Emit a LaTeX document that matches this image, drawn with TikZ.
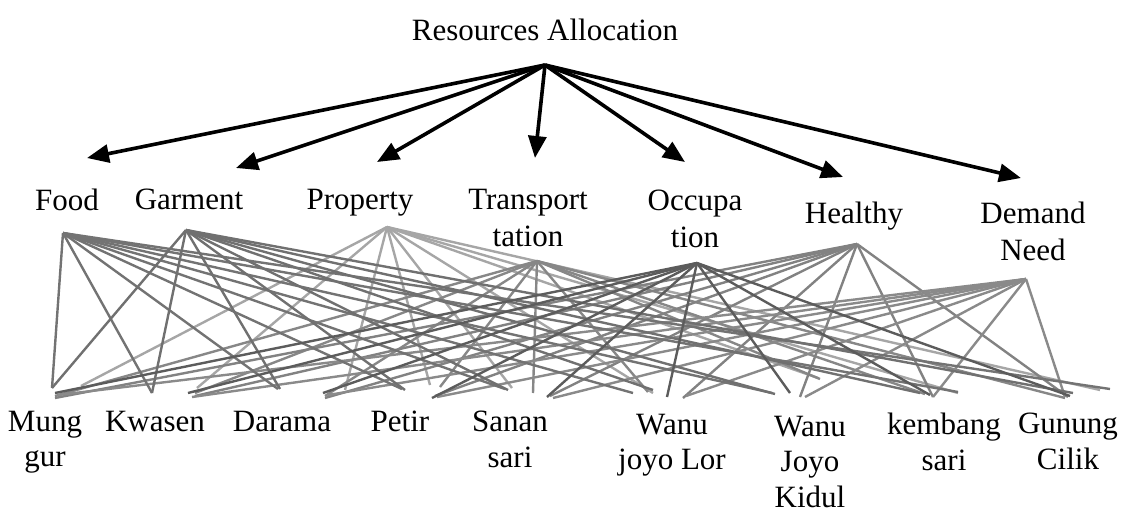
\documentclass[tikz,border=0pt]{standalone}
\usepackage{fontspec}
\setmainfont{Liberation Serif}
\usetikzlibrary{arrows.meta}
\begin{document}
\begin{tikzpicture}[x=0.5pt,y=-0.5pt,
  lbl/.style={inner sep=0pt,anchor=north,align=center,font=\fontsize{15.5}{17.6}\selectfont},
  arr/.style={line width=1.8pt,-{Triangle[length=11pt,width=9pt]}},
  lk/.style={line width=1.2pt},
  cF/.style={lk,draw=black!55},
  cG/.style={lk,draw=black!56},
  cP/.style={lk,draw=black!35},
  cT/.style={lk,draw=black!47},
  cO/.style={lk,draw=black!64},
  cH/.style={lk,draw=black!49},
  cD/.style={lk,draw=black!46}]
\useasboundingbox (0,0) rectangle (1132,515);
% title and categories
\node[lbl] (title) at (545,19) {Resources Allocation};
\coordinate (root) at (545,65);
\node[lbl] (food) at (67,189) {Food};
\node[lbl] (garment) at (189,189) {Garment};
\node[lbl] (property) at (360,189) {Property};
\node[lbl,font=\fontsize{15.5}{18.25}\selectfont] (transport) at (528,189) {Transport\\tation};
\node[lbl,font=\fontsize{15.5}{18.25}\selectfont] (occup) at (695,190) {Occupa\\tion};
\node[lbl] (healthy) at (854,202) {Healthy};
\node[lbl,font=\fontsize{15.5}{18.25}\selectfont] (demand) at (1033,202) {Demand\\Need};
% arrow tips
\coordinate (tF) at (87,158);
\coordinate (tG) at (236,168);
\coordinate (tP) at (377,162);
\coordinate (tT) at (535,158);
\coordinate (tO) at (685,162);
\coordinate (tH) at (843,177);
\coordinate (tD) at (1021,178);
\foreach \t in {tF,tG,tP,tT,tO,tH,tD} \draw[arr] (root) -- (\t);
% apex points
\coordinate (F) at (63,233);
\coordinate (G) at (186,230);
\coordinate (P) at (387,227);
\coordinate (T) at (537,261);
\coordinate (O) at (697,263);
\coordinate (H) at (857,244);
\coordinate (D) at (1026,279);
% villages
\node[lbl] (v1) at (45,411) {Mung\\gur};
\node[lbl] (v2) at (155,411) {Kwasen};
\node[lbl] (v3) at (282,411) {Darama};
\node[lbl] (v4) at (400,411) {Petir};
\node[lbl] (v5) at (510,411) {Sanan\\sari};
\node[lbl] (v6) at (672,414) {Wanu\\joyo Lor};
\node[lbl] (v7) at (810,416) {Wanu\\Joyo\\Kidul};
\node[lbl] (v8) at (944,413) {kembang\\sari};
\node[lbl] (v9) at (1068,413) {Gunung\\Cilik};
% endpoints
\foreach \n/\x/\y in {
 F1/52/388, G1/52/388, P1/81/386, T1/55/396, O1/55/393, H1/55/398, D1/58/395,
 F2/152/393, G2/152/393, P2/197/388, T2/195/393, O2/188/393, H2/195/396, D2/192/397,
 F3/278/389, G3/280/389, P3/345/390, T3/325/396, O3/323/393, H3/325/398, D3/328/395,
 F4/402/389, G4/405/390, P4/430/385, T4/440/387, O4/432/398, H4/435/396, D4/437/397,
 F5/505/389, G5/508/390, P5/512/388, T5/533/393, O5/547/397, H5/550/396, D5/553/398,
 F6/633/393, G6/653/390, P6/653/393, T6/648/392, O6/667/397, H6/683/398, D6/686/396,
 F7/772/393, G7/775/394, P7/818/378, T7/820/379, O7/790/393, H7/800/397, D7/805/397,
 F8/958/392, G8/920/393, P8/958/393, T8/925/394, O8/930/395, H8/933/397, D8/933/397,
 F9/1110/389, G9/1073/393, P9/1100/390, T9/1065/398, O9/1070/396, H9/1068/397, D9/1065/397}
 \coordinate (e\n) at (\x,\y);
\foreach \c in {P,T,H,D,F,G,O}
  \foreach \v in {1,...,9}
    \draw[c\c] (\c) -- (e\c\v);
\end{tikzpicture}
\end{document}
